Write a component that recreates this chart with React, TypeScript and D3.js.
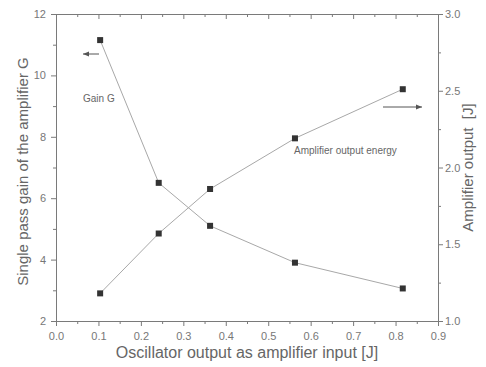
import React, { useEffect, useRef } from 'react';
import * as d3 from 'd3';

// values
const inputEnergy = [0.104, 0.242, 0.363, 0.563, 0.817];
const gainG = [11.15, 6.5, 5.1, 3.9, 3.06];
const outputEnergy = [1.18, 1.57, 1.86, 2.19, 2.51];
const xTicks = [0, 0.1, 0.2, 0.3, 0.4, 0.5, 0.6, 0.7, 0.8, 0.9];
const gainTicks = [2, 4, 6, 8, 10, 12];
const outputTicks = [1.0, 1.5, 2.0, 2.5, 3.0];

const W = 486;
const H = 367;

export default function App() {
    const ref = useRef<SVGSVGElement>(null);

    useEffect(() => {
        const margin = { top: 14, right: 48, bottom: 46, left: 56 };
        const svg = d3.select(ref.current);
        svg.selectAll('*').remove();

        const x = d3.scaleLinear().domain([0, 0.9]).range([margin.left, W - margin.right]);
        const yL = d3.scaleLinear().domain([2, 12]).range([H - margin.bottom, margin.top]);
        const yR = d3.scaleLinear().domain([1, 3]).range([H - margin.bottom, margin.top]);

        const axisColor = '#7a7a7a';
        const textColor = '#666';
        const font = 'Arial, "Liberation Sans", sans-serif';

        const styleAxis = (g: any) => {
            g.select('.domain').attr('stroke', axisColor);
            g.selectAll('.tick line').attr('stroke', axisColor);
            g.selectAll('.tick text').attr('fill', '#777').attr('font-size', 11).attr('font-family', font);
        };

        // minor ticks first
        const xMinor = d3.range(0.05, 0.9, 0.1);
        svg.append('g')
            .attr('transform', `translate(0,${H - margin.bottom})`)
            .call(d3.axisBottom(x).tickValues(xMinor).tickSize(3).tickFormat(() => ''))
            .call(styleAxis);
        svg.append('g')
            .attr('transform', `translate(0,${margin.top})`)
            .call(d3.axisBottom(x).tickValues(xMinor).tickSize(3).tickFormat(() => ''))
            .call(styleAxis);
        svg.append('g')
            .attr('transform', `translate(${margin.left},0)`)
            .call(d3.axisLeft(yL).tickValues([3, 5, 7, 9, 11]).tickSize(3).tickFormat(() => ''))
            .call(styleAxis);
        svg.append('g')
            .attr('transform', `translate(${W - margin.right},0)`)
            .call(d3.axisRight(yR).tickValues([1.25, 1.75, 2.25, 2.75]).tickSize(3).tickFormat(() => ''))
            .call(styleAxis);

        // major axes
        svg.append('g')
            .attr('transform', `translate(0,${H - margin.bottom})`)
            .call(d3.axisBottom(x).tickValues(xTicks).tickSize(5).tickPadding(6).tickFormat(d3.format('.1f')))
            .call(styleAxis);
        svg.append('g')
            .attr('transform', `translate(0,${margin.top})`)
            .call(d3.axisBottom(x).tickValues(xTicks).tickSize(5).tickFormat(() => ''))
            .call(styleAxis);
        svg.append('g')
            .attr('transform', `translate(${margin.left},0)`)
            .call(d3.axisLeft(yL).tickValues(gainTicks).tickSize(5).tickPadding(5).tickFormat(d3.format('d')))
            .call(styleAxis);
        svg.append('g')
            .attr('transform', `translate(${W - margin.right},0)`)
            .call(d3.axisRight(yR).tickValues(outputTicks).tickSize(5).tickPadding(2).tickFormat(d3.format('.1f')))
            .call(styleAxis);

        // lines
        const gainLine = d3.line<number>().x((d, i) => x(inputEnergy[i])).y((d) => yL(d));
        const outLine = d3.line<number>().x((d, i) => x(inputEnergy[i])).y((d) => yR(d));
        svg.append('path').datum(gainG).attr('fill', 'none').attr('stroke', '#a8a8a8').attr('stroke-width', 1).attr('d', gainLine);
        svg.append('path').datum(outputEnergy).attr('fill', 'none').attr('stroke', '#a8a8a8').attr('stroke-width', 1).attr('d', outLine);

        const s = 6;
        svg.append('g').selectAll('rect').data(gainG).enter().append('rect')
            .attr('x', (d, i) => x(inputEnergy[i]) - s / 2)
            .attr('y', (d) => yL(d) - s / 2)
            .attr('width', s).attr('height', s).attr('fill', '#333');
        svg.append('g').selectAll('rect').data(outputEnergy).enter().append('rect')
            .attr('x', (d, i) => x(inputEnergy[i]) - s / 2)
            .attr('y', (d) => yR(d) - s / 2)
            .attr('width', s).attr('height', s).attr('fill', '#333');

        // annotations
        svg.append('text').attr('x', 83).attr('y', 102).attr('fill', textColor)
            .attr('font-size', 10).attr('font-family', font).text('Gain G');
        svg.append('text').attr('x', 294).attr('y', 154).attr('fill', textColor)
            .attr('font-size', 10).attr('font-family', font).text('Amplifier output energy');

        const arrow = (x1: number, x2: number, yy: number) => {
            svg.append('line').attr('x1', x1).attr('x2', x2).attr('y1', yy).attr('y2', yy)
                .attr('stroke', '#555').attr('stroke-width', 1);
            const dir = x2 > x1 ? 1 : -1;
            svg.append('path')
                .attr('d', `M${x2},${yy} L${x2 - dir * 6},${yy - 2.5} L${x2 - dir * 6},${yy + 2.5} Z`)
                .attr('fill', '#555');
        };
        arrow(99, 83, 54);
        arrow(383, 422, 107);

        // axis titles
        svg.append('text')
            .attr('transform', `translate(28,${(margin.top + H - margin.bottom) / 2 + 4}) rotate(-90)`)
            .attr('text-anchor', 'middle').attr('fill', textColor)
            .attr('font-size', 15).attr('font-family', font)
            .text('Single pass gain of the amplifier G');
        svg.append('text')
            .attr('transform', `translate(473,${(margin.top + H - margin.bottom) / 2}) rotate(-90)`)
            .attr('text-anchor', 'middle').attr('fill', textColor)
            .attr('font-size', 15).attr('font-family', font)
            .attr('xml:space', 'preserve')
            .text('Amplifier output  [J]');
        svg.append('text')
            .attr('x', (margin.left + W - margin.right) / 2).attr('y', 358)
            .attr('text-anchor', 'middle').attr('fill', textColor)
            .attr('font-size', 16).attr('font-family', font)
            .text('Oscillator output as amplifier input [J]');
    }, []);

    return (
        <svg ref={ref} width={W} height={H}
            style={{ position: 'absolute', left: 0, top: 0, background: '#fff' }} />
    );
}
